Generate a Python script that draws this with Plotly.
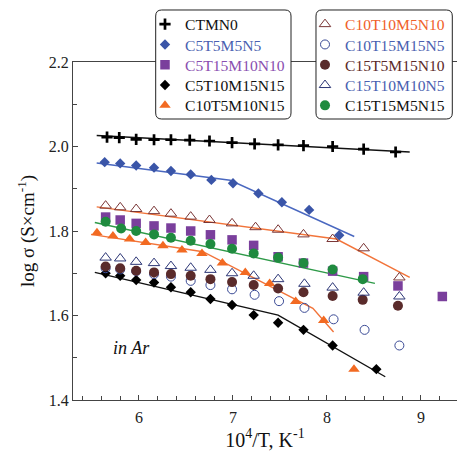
import plotly.graph_objects as go

# ---------------- data ----------------
ctmn0_x = [5.66, 5.79, 5.97, 6.16, 6.34, 6.54, 6.75, 6.99, 7.23, 7.48, 7.75, 8.06, 8.39, 8.73]
ctmn0_y = [2.022, 2.021, 2.017, 2.016, 2.016, 2.015, 2.013, 2.009, 2.006, 2.004, 2.002, 2.000, 1.994, 1.987]

c5t5_x = [5.635, 5.80, 5.97, 6.16, 6.34, 6.55, 6.77, 7.00, 7.27, 7.52, 7.81, 8.13]
c5t5_y = [1.963, 1.960, 1.955, 1.950, 1.942, 1.934, 1.921, 1.913, 1.889, 1.868, 1.850, 1.790]

c5t15_x = [5.645, 5.80, 5.97, 6.16, 6.34, 6.55, 6.76, 6.99, 7.22, 7.48, 7.75, 8.06, 8.39, 8.755, 9.227]
c5t15_y = [1.833, 1.826, 1.818, 1.812, 1.807, 1.800, 1.791, 1.779, 1.766, 1.739, 1.724, 1.705, 1.692, 1.670, 1.645]

c5t10_x = [5.645, 5.80, 5.97, 6.16, 6.34, 6.55, 6.76, 6.99, 7.22, 7.48, 7.75, 8.06, 8.525]
c5t10_y = [1.700, 1.694, 1.684, 1.678, 1.667, 1.655, 1.639, 1.625, 1.601, 1.583, 1.566, 1.529, 1.473]

c10t5_x = [5.553, 5.723, 5.90, 6.071, 6.255, 6.457, 6.670, 6.887, 7.131, 7.390, 7.667, 7.965, 8.287]
c10t5_y = [1.796, 1.788, 1.781, 1.773, 1.765, 1.755, 1.747, 1.724, 1.702, 1.676, 1.633, 1.588, 1.473]

c10t10_x = [5.645, 5.80, 5.97, 6.16, 6.34, 6.55, 6.75, 6.99, 7.24, 7.48, 7.75, 8.06, 8.39, 8.77]
c10t10_y = [1.860, 1.856, 1.852, 1.847, 1.841, 1.834, 1.826, 1.818, 1.809, 1.803, 1.792, 1.781, 1.759, 1.690]

c10t15_x = [5.645, 5.80, 5.97, 6.16, 6.34, 6.55, 6.76, 6.99, 7.23, 7.49, 7.76, 8.07, 8.40, 8.77]
c10t15_y = [1.712, 1.709, 1.705, 1.698, 1.692, 1.682, 1.672, 1.662, 1.649, 1.634, 1.618, 1.591, 1.566, 1.529]

c15t5_x = [5.645, 5.80, 5.97, 6.16, 6.34, 6.55, 6.76, 6.99, 7.22, 7.48, 7.75, 8.06, 8.38, 8.755]
c15t5_y = [1.716, 1.712, 1.706, 1.702, 1.698, 1.694, 1.686, 1.679, 1.672, 1.664, 1.655, 1.646, 1.637, 1.623]

c15t10_x = [5.645, 5.80, 5.97, 6.16, 6.34, 6.55, 6.76, 6.99, 7.22, 7.48, 7.76, 8.06, 8.39, 8.77]
c15t10_y = [1.737, 1.735, 1.727, 1.724, 1.717, 1.713, 1.708, 1.700, 1.694, 1.686, 1.675, 1.666, 1.654, 1.645]

c15t15_x = [5.645, 5.81, 5.97, 6.16, 6.34, 6.55, 6.76, 6.99, 7.22, 7.48, 7.75, 8.06, 8.38]
c15t15_y = [1.822, 1.806, 1.800, 1.792, 1.784, 1.777, 1.769, 1.758, 1.747, 1.737, 1.724, 1.709, 1.686]

# fitted lines (vertices)
fit_ctmn0_x = [5.55, 8.88]
fit_ctmn0_y = [2.026, 1.987]
fit_c5t5_x = [5.55, 6.97, 8.29]
fit_c5t5_y = [1.961, 1.920, 1.787]
fit_c10t10_x = [5.55, 8.10, 8.88]
fit_c10t10_y = [1.857, 1.781, 1.690]
fit_c15t15_x = [5.53, 8.51]
fit_c15t15_y = [1.820, 1.676]
fit_c10t5_x = [5.49, 6.68, 7.85, 8.07]
fit_c10t5_y = [1.792, 1.751, 1.617, 1.561]
fit_c5t10_x = [5.53, 7.48, 8.62]
fit_c5t10_y = [1.702, 1.601, 1.455]

FONT = "Liberation Serif"

fig = go.Figure()

fits = [
    (fit_ctmn0_x, fit_ctmn0_y, "#111111"),
    (fit_c5t5_x, fit_c5t5_y, "#4a68c0"),
    (fit_c10t10_x, fit_c10t10_y, "#f2743a"),
    (fit_c15t15_x, fit_c15t15_y, "#2e9a48"),
    (fit_c10t5_x, fit_c10t5_y, "#f2743a"),
    (fit_c5t10_x, fit_c5t10_y, "#111111"),
]
for fx, fy, col in fits:
    fig.add_trace(go.Scatter(x=fx, y=fy, mode="lines", line=dict(color=col, width=1.4),
                             showlegend=False, hoverinfo="skip"))


def nm(text, color):
    return f"<span style='color:{color}'>{text}</span>"


series = [
    # x, y, name, text color, symbol, marker color, size, line color, line width, column
    (ctmn0_x, ctmn0_y, "CTMN0", "#111111", "cross-thin", "#000000", 8, "#000000", 2.7, 0),
    (c5t5_x, c5t5_y, "C5T5M5N5", "#4a5fb0", "diamond", "#3a55a8", 8, "#3a55a8", 0, 0),
    (c5t15_x, c5t15_y, "C5T15M10N10", "#8a4fb0", "square", "#7a3f9c", 9.5, "#7a3f9c", 0, 0),
    (c5t10_x, c5t10_y, "C5T10M15N15", "#111111", "diamond", "#000000", 8, "#000000", 0, 0),
    (c10t5_x, c10t5_y, "C10T5M10N15", "#111111", "triangle-up", "#f26a22", 10, "#f26a22", 0, 0),
    (c10t10_x, c10t10_y, "C10T10M5N10", "#f0602a", "triangle-up-open", "#7a3535", 10, "#7a3535", 1, 1),
    (c10t15_x, c10t15_y, "C10T15M15N5", "#4a5fb0", "circle-open", "#3a4a95", 9, "#3a4a95", 1, 1),
    (c15t5_x, c15t5_y, "C15T5M15N10", "#5c2a2a", "circle", "#5a2b2b", 10, "#5a2b2b", 0, 1),
    (c15t10_x, c15t10_y, "C15T10M10N5", "#4a5fb0", "triangle-up-open", "#2b3575", 10, "#2b3575", 1, 1),
    (c15t15_x, c15t15_y, "C15T15M5N15", "#111111", "circle", "#1f8b3f", 10, "#1f8b3f", 0, 1),
]

# layout geometry (pixels)
W, H = 457, 452
ML, MR, MT, MB = 73, 0, 62, 52
PW, PH = W - ML - MR, H - MT - MB


def px2paper(px, py):
    return (px - ML) / PW, (H - MB - py) / PH


legend_left_px = [145, 305]
row_center_px = [24.5, 44.8, 65.1, 85.4, 105.7]

legends = {}
row_in_col = [0, 0]
for i, (sx, sy, name, tcol, sym, mcol, size, lcol, lw, col) in enumerate(series):
    key = "legend" if i == 0 else f"legend{i + 1}"
    r = row_in_col[col]
    row_in_col[col] += 1
    lx, lyy = px2paper(legend_left_px[col], row_center_px[r])
    legends[key] = dict(x=lx, y=lyy, xanchor="left", yanchor="middle",
                        bgcolor="rgba(0,0,0,0)", borderwidth=0,
                        font=dict(family=FONT, size=15.6))
    fig.add_trace(go.Scatter(
        x=sx, y=sy, mode="markers", name=nm(name, tcol), legend=key,
        marker=dict(symbol=sym, color=mcol, size=size, line=dict(color=lcol, width=lw)),
    ))


def rounded_box(x0, y0, x1, y1, r):
    def P(px, py):
        a, b = px2paper(px, py)
        return f"{a:.5f},{b:.5f}"
    path = (f"M{P(x0 + r, y0)} L{P(x1 - r, y0)} Q{P(x1, y0)} {P(x1, y0 + r)} "
            f"L{P(x1, y1 - r)} Q{P(x1, y1)} {P(x1 - r, y1)} "
            f"L{P(x0 + r, y1)} Q{P(x0, y1)} {P(x0, y1 - r)} "
            f"L{P(x0, y0 + r)} Q{P(x0, y0)} {P(x0 + r, y0)} Z")
    return dict(type="path", xref="paper", yref="paper", path=path, layer="above",
                fillcolor="white", line=dict(color="#222222", width=1))


xmin = 5.298
xmax = xmin + PW / 94.0

fig.update_layout(
    width=W, height=H,
    margin=dict(l=ML, r=MR, t=MT, b=MB),
    paper_bgcolor="white", plot_bgcolor="white",
    font=dict(family=FONT, size=16, color="#111111"),
    shapes=[rounded_box(155.7, 10, 291, 119, 6), rounded_box(316, 10, 452.3, 119, 6)],
    xaxis=dict(range=[xmin, xmax], showgrid=False, zeroline=False, showline=True,
               linecolor="#444444", linewidth=1.3, mirror=True,
               ticks="inside", ticklen=5, tickwidth=1.2, tickcolor="#444444",
               dtick=1, tick0=0, ticklabelstandoff=3,
               minor=dict(dtick=0.2, ticks="inside", ticklen=4, tickwidth=1.1, tickcolor="#444444"),
               tickfont=dict(family=FONT, size=16, color="#222222"),
               title=dict(text="10<sup>4</sup>/T, K<sup>-1</sup>", font=dict(family=FONT, size=20),
                          standoff=5)),
    yaxis=dict(range=[1.4, 2.2], showgrid=False, zeroline=False, showline=True,
               linecolor="#444444", linewidth=1.3, mirror=False,
               ticks="inside", ticklen=5, tickwidth=1.2, tickcolor="#444444",
               dtick=0.2, tick0=0, tickformat=".1f",
               minor=dict(dtick=0.1, ticks="inside", ticklen=4, tickwidth=1.1, tickcolor="#444444"),
               tickfont=dict(family=FONT, size=16, color="#222222"),
               title=dict(text="log σ (S×cm<sup>-1</sup>)", font=dict(family=FONT, size=19),
                          standoff=9)),
    annotations=[dict(x=5.92, y=1.524, xref="x", yref="y", text="<i>in Ar</i>", showarrow=False,
                      font=dict(family=FONT, size=18, color="#111111"))],
    **legends,
)

fig.write_html("out.html")
